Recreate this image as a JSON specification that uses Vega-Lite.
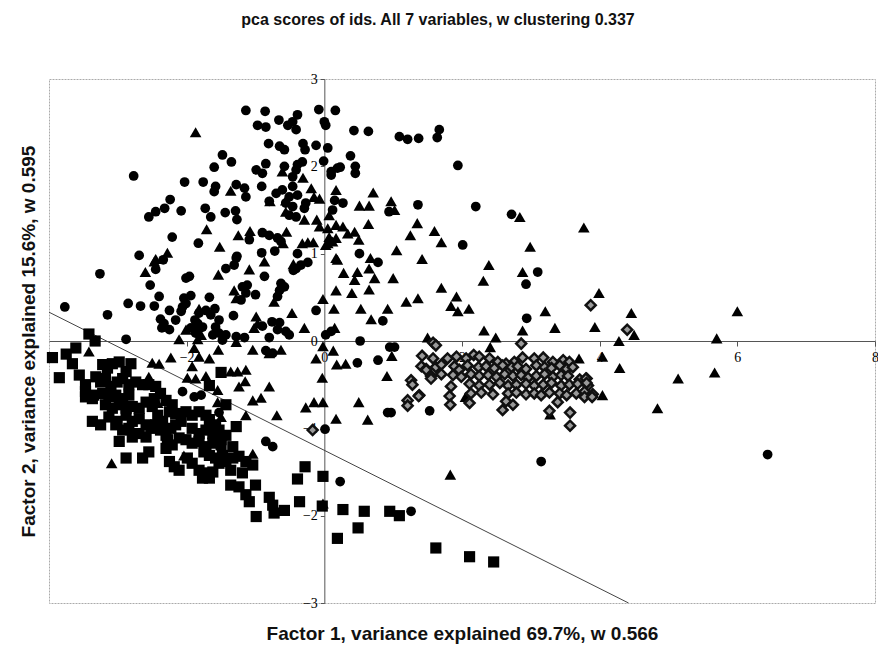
{
"$schema":"https://vega.github.io/schema/vega-lite/v6.json",
"width":826,"height":524,
"autosize":{"type":"none"},
"padding":{"left":49,"top":79,"right":3,"bottom":42},
"background":"white",
"title":{"text":"pca scores of ids. All 7 variables, w clustering 0.337","font":"Liberation Sans","fontSize":16,"fontWeight":"bold","color":"#111","anchor":"middle","dx":-24,"offset":31,"baseline":"alphabetic"},
"config":{"view":{"stroke":"#aaa","strokeDash":[2,1],"strokeWidth":1}},
"datasets":{
"cut":[{"x":-4,"y":0.33},{"x":4.42,"y":-3}],
"pts":[
{"x":-1.14,"y":2.64,"g":"c"},{"x":-0.86,"y":2.63,"g":"c"},{"x":-0.97,"y":2.47,"g":"c"},{"x":-0.85,"y":2.45,"g":"c"},{"x":-0.66,"y":2.53,"g":"c"},{"x":-0.53,"y":2.47,"g":"c"},{"x":-0.46,"y":2.51,"g":"c"},{"x":-0.41,"y":2.42,"g":"c"},{"x":-0.39,"y":2.59,"g":"c"},{"x":-0.81,"y":2.26,"g":"c"},{"x":-0.65,"y":2.23,"g":"c"},{"x":-0.58,"y":2.19,"g":"c"},{"x":-1.48,"y":2.13,"g":"c"},{"x":-1.35,"y":2.05,"g":"c"},{"x":-1.6,"y":1.99,"g":"c"},{"x":-0.85,"y":2.03,"g":"c"},{"x":-0.99,"y":1.96,"g":"c"},{"x":-0.9,"y":1.92,"g":"c"},{"x":-0.58,"y":2.0,"g":"c"},{"x":-0.46,"y":1.88,"g":"c"},{"x":-2.77,"y":1.89,"g":"c"},{"x":-2.03,"y":1.82,"g":"c"},{"x":-1.76,"y":1.82,"g":"c"},{"x":-1.58,"y":1.77,"g":"c"},{"x":-1.6,"y":1.71,"g":"c"},{"x":-1.28,"y":1.79,"g":"c"},{"x":-1.16,"y":1.75,"g":"c"},{"x":-1.14,"y":1.65,"g":"c"},{"x":-0.91,"y":1.77,"g":"c"},{"x":-0.7,"y":1.69,"g":"c"},{"x":-0.61,"y":1.73,"g":"c"},{"x":-0.46,"y":1.77,"g":"c"},{"x":-0.51,"y":1.65,"g":"c"},{"x":-0.39,"y":1.67,"g":"c"},{"x":-2.24,"y":1.62,"g":"c"},{"x":-2.45,"y":1.48,"g":"c"},{"x":-2.55,"y":1.42,"g":"c"},{"x":-2.32,"y":1.52,"g":"c"},{"x":-2.08,"y":1.49,"g":"c"},{"x":-1.73,"y":1.52,"g":"c"},{"x":-1.65,"y":1.42,"g":"c"},{"x":-1.44,"y":1.47,"g":"c"},{"x":-1.29,"y":1.49,"g":"c"},{"x":-1.27,"y":1.39,"g":"c"},{"x":-0.8,"y":1.6,"g":"c"},{"x":-0.56,"y":1.58,"g":"c"},{"x":-0.46,"y":1.54,"g":"c"},{"x":-0.51,"y":1.44,"g":"c"},{"x":-0.9,"y":1.24,"g":"c"},{"x":-0.8,"y":1.21,"g":"c"},{"x":-0.68,"y":1.18,"g":"c"},{"x":-0.63,"y":1.14,"g":"c"},{"x":-1.09,"y":1.16,"g":"c"},{"x":-2.21,"y":1.19,"g":"c"},{"x":-1.83,"y":1.12,"g":"c"},{"x":-0.72,"y":1.03,"g":"c"},{"x":-0.91,"y":1.01,"g":"c"},{"x":-0.39,"y":1.0,"g":"c"},{"x":-2.69,"y":0.98,"g":"c"},{"x":-1.27,"y":0.97,"g":"c"},{"x":-0.41,"y":1.42,"g":"c"},
{"x":-0.08,"y":2.65,"g":"c"},{"x":0.16,"y":2.64,"g":"c"},{"x":0,"y":2.51,"g":"c"},{"x":0.02,"y":2.47,"g":"c"},{"x":-0.31,"y":2.26,"g":"c"},{"x":-0.28,"y":2.19,"g":"c"},{"x":-0.12,"y":2.24,"g":"c"},{"x":0.05,"y":2.21,"g":"c"},{"x":-0.01,"y":2.06,"g":"c"},{"x":0.19,"y":1.98,"g":"c"},{"x":-0.32,"y":2.05,"g":"c"},{"x":-0.39,"y":2.02,"g":"c"},{"x":-0.41,"y":1.96,"g":"c"},{"x":0.15,"y":1.61,"g":"c"},{"x":-0.29,"y":1.52,"g":"c"},{"x":-0.27,"y":1.58,"g":"c"},{"x":-0.12,"y":0.35,"g":"c"},{"x":0.02,"y":0.07,"g":"c"},
{"x":0.43,"y":2.41,"g":"c"},{"x":0.64,"y":2.4,"g":"c"},{"x":1.09,"y":2.34,"g":"c"},{"x":1.21,"y":2.31,"g":"c"},{"x":1.37,"y":2.32,"g":"c"},{"x":1.67,"y":2.42,"g":"c"},{"x":1.64,"y":2.33,"g":"c"},{"x":0.38,"y":2.12,"g":"c"},{"x":0.1,"y":1.94,"g":"c"},{"x":0.1,"y":1.9,"g":"c"},{"x":0.23,"y":1.99,"g":"c"},{"x":0.45,"y":2.0,"g":"c"},{"x":0.45,"y":1.92,"g":"c"},{"x":1.94,"y":2.01,"g":"c"},{"x":0.27,"y":1.58,"g":"c"},{"x":0.12,"y":1.5,"g":"c"},{"x":1.36,"y":1.56,"g":"c"},{"x":2.2,"y":1.54,"g":"c"},{"x":0.94,"y":1.48,"g":"c"},{"x":2.72,"y":1.45,"g":"c"},{"x":2.01,"y":1.1,"g":"c"},{"x":0.51,"y":1.0,"g":"c"},
{"x":-3.26,"y":0.77,"g":"c"},{"x":-2.45,"y":0.82,"g":"c"},{"x":-2.34,"y":0.93,"g":"c"},{"x":-2.53,"y":0.64,"g":"c"},{"x":-2.4,"y":0.51,"g":"c"},{"x":-2.85,"y":0.43,"g":"c"},{"x":-2.67,"y":0.4,"g":"c"},{"x":-2.47,"y":0.4,"g":"c"},{"x":-3.15,"y":0.3,"g":"c"},{"x":-2.25,"y":0.35,"g":"c"},{"x":-2.38,"y":0.25,"g":"c"},{"x":-2.33,"y":0.2,"g":"c"},{"x":-2.36,"y":0.15,"g":"c"},{"x":-2.25,"y":0.13,"g":"c"},{"x":-2.16,"y":0.24,"g":"c"},{"x":-2.08,"y":0.34,"g":"c"},{"x":-2.01,"y":0.72,"g":"c"},{"x":-1.96,"y":0.74,"g":"c"},{"x":-2.04,"y":0.49,"g":"c"},{"x":-1.94,"y":0.52,"g":"c"},{"x":-2.01,"y":0.43,"g":"c"},{"x":-2.06,"y":0.39,"g":"c"},{"x":-1.88,"y":0.24,"g":"c"},{"x":-1.84,"y":0.2,"g":"c"},{"x":-1.94,"y":0.15,"g":"c"},{"x":-1.87,"y":0.09,"g":"c"},{"x":-1.77,"y":0.16,"g":"c"},{"x":-1.67,"y":0.5,"g":"c"},{"x":-1.72,"y":0.35,"g":"c"},{"x":-1.59,"y":0.37,"g":"c"},{"x":-1.65,"y":0.3,"g":"c"},{"x":-1.53,"y":0.24,"g":"c"},{"x":-1.58,"y":0.16,"g":"c"},{"x":-1.53,"y":0.09,"g":"c"},{"x":-1.43,"y":0.07,"g":"c"},{"x":-1.43,"y":0.83,"g":"c"},{"x":-1.31,"y":0.87,"g":"c"},{"x":-1.28,"y":0.95,"g":"c"},{"x":-1.19,"y":0.62,"g":"c"},{"x":-1.12,"y":0.64,"g":"c"},{"x":-1.14,"y":0.55,"g":"c"},{"x":-1.0,"y":0.53,"g":"c"},{"x":-1.21,"y":0.47,"g":"c"},{"x":-1.32,"y":0.29,"g":"c"},{"x":-0.9,"y":0.17,"g":"c"},{"x":-1.28,"y":0.05,"g":"c"},{"x":-1.16,"y":0.04,"g":"c"},{"x":-0.63,"y":0.66,"g":"c"},{"x":-0.58,"y":0.62,"g":"c"},{"x":-0.65,"y":0.58,"g":"c"},{"x":-0.68,"y":0.51,"g":"c"},{"x":-0.41,"y":0.83,"g":"c"},{"x":-0.34,"y":0.87,"g":"c"},{"x":-0.24,"y":0.9,"g":"c"},{"x":-0.45,"y":0.81,"g":"c"},{"x":-0.76,"y":0.22,"g":"c"},{"x":-0.65,"y":0.21,"g":"c"},{"x":-0.68,"y":0.13,"g":"c"},{"x":-0.56,"y":0.11,"g":"c"},{"x":-0.51,"y":0.07,"g":"c"},{"x":-0.8,"y":0.04,"g":"c"},
{"x":-3.77,"y":0.39,"g":"c"},{"x":-2.88,"y":0.02,"g":"c"},{"x":-1.82,"y":0.32,"g":"c"},{"x":-1.62,"y":0.07,"g":"c"},{"x":-1.48,"y":0.01,"g":"c"},{"x":-0.87,"y":0.74,"g":"c"},{"x":-0.85,"y":-0.11,"g":"c"},{"x":-0.75,"y":-0.14,"g":"c"},{"x":-2.06,"y":-0.58,"g":"c"},{"x":-1.89,"y":-0.64,"g":"c"},{"x":-1.79,"y":-0.62,"g":"c"},{"x":-1.53,"y":-0.82,"g":"c"},{"x":-0.85,"y":-1.15,"g":"c"},{"x":-0.75,"y":-1.21,"g":"c"},
{"x":0.78,"y":0.9,"g":"c"},{"x":3.1,"y":0.79,"g":"c"},{"x":2.93,"y":0.65,"g":"c"},{"x":2.94,"y":0.26,"g":"c"},{"x":0.85,"y":0.23,"g":"c"},{"x":0.1,"y":0.11,"g":"c"},{"x":0.52,"y":0.0,"g":"c"},{"x":0.95,"y":-0.07,"g":"c"},{"x":1.02,"y":-0.07,"g":"c"},{"x":0.48,"y":-0.25,"g":"c"},{"x":0.78,"y":-0.22,"g":"c"},{"x":1.53,"y":-0.8,"g":"c"},{"x":0.92,"y":-0.82,"g":"c"},{"x":0.97,"y":-0.82,"g":"c"},{"x":0.01,"y":-1.01,"g":"c"},
{"x":0.23,"y":-1.61,"g":"c"},{"x":1.26,"y":-1.95,"g":"c"},{"x":3.15,"y":-1.38,"g":"c"},{"x":6.44,"y":-1.3,"g":"c"},
{"x":-1.87,"y":2.39,"g":"t"},{"x":-1.36,"y":1.72,"g":"t"},{"x":-0.79,"y":1.6,"g":"t"},{"x":-0.56,"y":1.61,"g":"t"},{"x":-0.56,"y":1.48,"g":"t"},{"x":-0.61,"y":1.94,"g":"t"},{"x":-1.71,"y":1.28,"g":"t"},{"x":-1.25,"y":1.21,"g":"t"},{"x":-1.08,"y":1.26,"g":"t"},{"x":-0.55,"y":1.25,"g":"t"},{"x":-0.6,"y":1.12,"g":"t"},{"x":-1.52,"y":1.08,"g":"t"},{"x":-2.28,"y":1.01,"g":"t"},{"x":-2.45,"y":0.94,"g":"t"},{"x":-0.31,"y":1.87,"g":"t"},{"x":-0.19,"y":1.75,"g":"t"},{"x":-0.15,"y":1.65,"g":"t"},{"x":-0.07,"y":1.63,"g":"t"},{"x":0.17,"y":1.73,"g":"t"},{"x":0.07,"y":1.44,"g":"t"},{"x":-0.29,"y":1.39,"g":"t"},{"x":-0.11,"y":1.39,"g":"t"},{"x":-0.07,"y":1.31,"g":"t"},{"x":0.05,"y":1.29,"g":"t"},{"x":0.17,"y":1.33,"g":"t"},{"x":0.07,"y":1.19,"g":"t"},{"x":0.17,"y":1.18,"g":"t"},{"x":-0.32,"y":1.12,"g":"t"},{"x":-0.24,"y":1.13,"g":"t"},{"x":-0.16,"y":1.13,"g":"t"},{"x":0.05,"y":1.12,"g":"t"},{"x":0.17,"y":0.95,"g":"t"},{"x":0.17,"y":0.58,"g":"t"},{"x":-0.02,"y":0.48,"g":"t"},{"x":0.14,"y":0.37,"g":"t"},{"x":-0.29,"y":0.15,"g":"t"},{"x":0.15,"y":0.15,"g":"t"},{"x":-2.6,"y":0.79,"g":"t"},{"x":-2.47,"y":0.91,"g":"t"},{"x":-1.82,"y":0.37,"g":"t"},{"x":-2.01,"y":0.13,"g":"t"},{"x":-1.84,"y":0.16,"g":"t"},{"x":-1.54,"y":0.76,"g":"t"},{"x":-1.09,"y":0.82,"g":"t"},{"x":-1.31,"y":0.58,"g":"t"},{"x":-1.28,"y":0.49,"g":"t"},{"x":-0.99,"y":0.28,"g":"t"},{"x":-0.97,"y":0.2,"g":"t"},{"x":-1.02,"y":0.15,"g":"t"},{"x":-0.87,"y":0.91,"g":"t"},{"x":-0.73,"y":0.45,"g":"t"},{"x":-0.45,"y":0.88,"g":"t"},{"x":-0.47,"y":0.32,"g":"t"},{"x":-2.11,"y":0.02,"g":"t"},{"x":-1.79,"y":0.07,"g":"t"},{"x":-1.84,"y":0.02,"g":"t"},{"x":-1.28,"y":-0.01,"g":"t"},{"x":-3.42,"y":-0.12,"g":"t"},{"x":-1.04,"y":-0.1,"g":"t"},{"x":-0.63,"y":-0.1,"g":"t"},{"x":-0.8,"y":-0.14,"g":"t"},{"x":-1.89,"y":-0.08,"g":"t"},{"x":-1.82,"y":-0.18,"g":"t"},{"x":-1.92,"y":-0.29,"g":"t"},{"x":-1.67,"y":-0.2,"g":"t"},{"x":-2.23,"y":-0.19,"g":"t"},{"x":-2.5,"y":-0.25,"g":"t"},{"x":-2.4,"y":-0.26,"g":"t"},{"x":-1.54,"y":-0.1,"g":"t"},{"x":-1.36,"y":-0.35,"g":"t"},{"x":-1.26,"y":-0.35,"g":"t"},{"x":-1.14,"y":-0.33,"g":"t"},{"x":-1.15,"y":-0.46,"g":"t"},{"x":-1.24,"y":-0.52,"g":"t"},{"x":-1.99,"y":-0.42,"g":"t"},{"x":-1.87,"y":-0.43,"g":"t"},{"x":-1.72,"y":-0.4,"g":"t"},{"x":-0.8,"y":-0.52,"g":"t"},{"x":-1.04,"y":-0.68,"g":"t"},{"x":-0.92,"y":-0.65,"g":"t"},{"x":-1.55,"y":-0.56,"g":"t"},{"x":-1.55,"y":-0.7,"g":"t"},{"x":-1.14,"y":-0.85,"g":"t"},{"x":-0.69,"y":-0.85,"g":"t"},{"x":-2.55,"y":-0.41,"g":"t"},{"x":-2.42,"y":-0.71,"g":"t"},{"x":-3.09,"y":-1.4,"g":"t"},{"x":-1.5,"y":-0.87,"g":"t"},{"x":-1.04,"y":-1.29,"g":"t"},{"x":-2.04,"y":-1.31,"g":"t"},
{"x":0.19,"y":0.93,"g":"t"},{"x":0.67,"y":0.95,"g":"t"},{"x":0.65,"y":0.83,"g":"t"},{"x":0.73,"y":0.72,"g":"t"},{"x":1.05,"y":1.04,"g":"t"},{"x":0.28,"y":0.78,"g":"t"},{"x":0.48,"y":0.79,"g":"t"},{"x":0.44,"y":0.7,"g":"t"},{"x":1.0,"y":0.72,"g":"t"},{"x":1.42,"y":0.94,"g":"t"},{"x":2.39,"y":0.87,"g":"t"},{"x":2.88,"y":0.79,"g":"t"},{"x":2.31,"y":0.69,"g":"t"},{"x":0.4,"y":0.55,"g":"t"},{"x":0.65,"y":0.59,"g":"t"},{"x":1.7,"y":0.61,"g":"t"},{"x":1.92,"y":0.51,"g":"t"},{"x":1.84,"y":0.4,"g":"t"},{"x":1.94,"y":0.34,"g":"t"},{"x":2.1,"y":0.37,"g":"t"},{"x":1.19,"y":0.45,"g":"t"},{"x":1.36,"y":0.49,"g":"t"},{"x":0.53,"y":0.37,"g":"t"},{"x":0.92,"y":0.37,"g":"t"},{"x":0.68,"y":0.25,"g":"t"},{"x":3.21,"y":0.34,"g":"t"},{"x":3.35,"y":0.15,"g":"t"},{"x":2.32,"y":0.12,"g":"t"},{"x":2.88,"y":0.12,"g":"t"},{"x":-0.02,"y":-0.06,"g":"t"},{"x":0.13,"y":-0.11,"g":"t"},{"x":-0.12,"y":-0.2,"g":"t"},{"x":0.18,"y":-0.27,"g":"t"},{"x":0.31,"y":-0.26,"g":"t"},{"x":0.98,"y":-0.17,"g":"t"},{"x":1.5,"y":0.04,"g":"t"},{"x":2.49,"y":0.04,"g":"t"},{"x":2.41,"y":-0.07,"g":"t"},{"x":-0.03,"y":-0.42,"g":"t"},{"x":0.91,"y":-0.4,"g":"t"},{"x":0.5,"y":-0.7,"g":"t"},{"x":-0.27,"y":-0.76,"g":"t"},{"x":-0.15,"y":-0.7,"g":"t"},{"x":-0.02,"y":-0.7,"g":"t"},{"x":0.17,"y":-0.89,"g":"t"},{"x":0.63,"y":-0.9,"g":"t"},{"x":3.7,"y":-0.2,"g":"t"},{"x":2.05,"y":-0.64,"g":"t"},{"x":3.93,"y":0.16,"g":"t"},{"x":4.04,"y":-0.18,"g":"t"},{"x":4.04,"y":-0.62,"g":"t"},{"x":3.28,"y":-0.84,"g":"t"},
{"x":3.99,"y":0.55,"g":"t"},{"x":4.46,"y":0.32,"g":"t"},{"x":4.5,"y":0.07,"g":"t"},{"x":4.28,"y":0.0,"g":"t"},{"x":5.7,"y":0.03,"g":"t"},{"x":6.0,"y":0.34,"g":"t"},{"x":4.29,"y":-0.31,"g":"t"},{"x":5.14,"y":-0.43,"g":"t"},{"x":5.67,"y":-0.36,"g":"t"},{"x":4.84,"y":-0.77,"g":"t"},
{"x":0.71,"y":1.7,"g":"t"},{"x":0.51,"y":1.55,"g":"t"},{"x":0.65,"y":1.55,"g":"t"},{"x":0.97,"y":1.6,"g":"t"},{"x":1.02,"y":1.5,"g":"t"},{"x":0.27,"y":1.31,"g":"t"},{"x":0.34,"y":1.23,"g":"t"},{"x":0.44,"y":1.25,"g":"t"},{"x":0.64,"y":1.34,"g":"t"},{"x":0.5,"y":1.16,"g":"t"},{"x":0.12,"y":1.14,"g":"t"},{"x":0.02,"y":1.1,"g":"t"},{"x":1.35,"y":1.35,"g":"t"},{"x":1.6,"y":1.26,"g":"t"},{"x":1.25,"y":1.21,"g":"t"},{"x":1.7,"y":1.13,"g":"t"},{"x":2.84,"y":1.42,"g":"t"},{"x":2.99,"y":1.08,"g":"t"},{"x":3.77,"y":1.3,"g":"t"},
{"x":1.83,"y":-1.53,"g":"t"},{"x":-0.02,"y":-1.86,"g":"t"},
{"x":-3.42,"y":0.08,"g":"s"},{"x":-3.33,"y":0.0,"g":"s"},{"x":-3.61,"y":-0.08,"g":"s"},{"x":-3.75,"y":-0.15,"g":"s"},{"x":-3.95,"y":-0.19,"g":"s"},{"x":-3.66,"y":-0.26,"g":"s"},{"x":-3.85,"y":-0.42,"g":"s"},{"x":-3.56,"y":-0.39,"g":"s"},{"x":-3.47,"y":-0.5,"g":"s"},{"x":-3.47,"y":-0.64,"g":"s"},{"x":-3.37,"y":-0.66,"g":"s"},{"x":-3.37,"y":-0.92,"g":"s"},{"x":-3.25,"y":-0.96,"g":"s"},{"x":-3.13,"y":-0.87,"g":"s"},{"x":-3.01,"y":-0.92,"g":"s"},{"x":-2.98,"y":-1.15,"g":"s"},{"x":-2.88,"y":-1.34,"g":"s"},{"x":-2.64,"y":-1.34,"g":"s"},{"x":-2.55,"y":-1.27,"g":"s"},{"x":-2.79,"y":-1.1,"g":"s"},{"x":-3.22,"y":-0.27,"g":"s"},{"x":-3.15,"y":-0.31,"g":"s"},{"x":-3.08,"y":-0.26,"g":"s"},{"x":-2.98,"y":-0.24,"g":"s"},{"x":-2.81,"y":-0.26,"g":"s"},{"x":-2.88,"y":-0.35,"g":"s"},{"x":-3.32,"y":-0.41,"g":"s"},{"x":-3.25,"y":-0.47,"g":"s"},{"x":-3.18,"y":-0.43,"g":"s"},{"x":-3.1,"y":-0.52,"g":"s"},{"x":-3.01,"y":-0.47,"g":"s"},{"x":-2.93,"y":-0.43,"g":"s"},{"x":-2.84,"y":-0.5,"g":"s"},{"x":-2.74,"y":-0.47,"g":"s"},{"x":-2.64,"y":-0.5,"g":"s"},{"x":-2.55,"y":-0.5,"g":"s"},{"x":-3.47,"y":-0.58,"g":"s"},{"x":-3.35,"y":-0.62,"g":"s"},{"x":-3.22,"y":-0.6,"g":"s"},{"x":-3.13,"y":-0.64,"g":"s"},{"x":-3.03,"y":-0.62,"g":"s"},{"x":-2.93,"y":-0.66,"g":"s"},{"x":-2.84,"y":-0.62,"g":"s"},{"x":-3.18,"y":-0.73,"g":"s"},{"x":-3.08,"y":-0.77,"g":"s"},{"x":-2.98,"y":-0.73,"g":"s"},{"x":-2.88,"y":-0.77,"g":"s"},{"x":-2.79,"y":-0.75,"g":"s"},{"x":-2.69,"y":-0.77,"g":"s"},{"x":-2.45,"y":-0.52,"g":"s"},{"x":-2.38,"y":-0.6,"g":"s"},{"x":-2.47,"y":-0.66,"g":"s"},{"x":-2.59,"y":-0.7,"g":"s"},{"x":-2.5,"y":-0.75,"g":"s"},{"x":-2.3,"y":-0.68,"g":"s"},{"x":-2.21,"y":-0.73,"g":"s"},{"x":-2.25,"y":-0.81,"g":"s"},{"x":-2.16,"y":-0.83,"g":"s"},{"x":-2.42,"y":-0.85,"g":"s"},{"x":-2.35,"y":-0.92,"g":"s"},{"x":-2.45,"y":-0.96,"g":"s"},{"x":-2.88,"y":-0.85,"g":"s"},{"x":-2.79,"y":-0.92,"g":"s"},{"x":-2.69,"y":-0.89,"g":"s"},{"x":-2.59,"y":-0.96,"g":"s"},{"x":-2.52,"y":-1.0,"g":"s"},{"x":-3.03,"y":-0.96,"g":"s"},{"x":-2.93,"y":-1.02,"g":"s"},{"x":-2.84,"y":-1.0,"g":"s"},{"x":-2.69,"y":-1.06,"g":"s"},{"x":-2.59,"y":-1.1,"g":"s"},{"x":-2.38,"y":-1.02,"g":"s"},{"x":-2.3,"y":-1.08,"g":"s"},{"x":-2.23,"y":-1.0,"g":"s"},{"x":-2.16,"y":-0.96,"g":"s"},{"x":-2.08,"y":-0.92,"g":"s"},{"x":-2.28,"y":-1.13,"g":"s"},{"x":-2.21,"y":-1.19,"g":"s"},{"x":-2.3,"y":-1.23,"g":"s"},{"x":-2.11,"y":-1.11,"g":"s"},{"x":-2.01,"y":-0.81,"g":"s"},{"x":-1.92,"y":-0.85,"g":"s"},{"x":-1.82,"y":-0.81,"g":"s"},{"x":-1.72,"y":-0.85,"g":"s"},{"x":-1.92,"y":-1.0,"g":"s"},{"x":-1.82,"y":-1.06,"g":"s"},{"x":-1.72,"y":-1.02,"g":"s"},{"x":-1.62,"y":-1.06,"g":"s"},{"x":-1.53,"y":-1.02,"g":"s"},{"x":-2.01,"y":-1.13,"g":"s"},{"x":-1.92,"y":-1.17,"g":"s"},{"x":-1.82,"y":-1.15,"g":"s"},{"x":-1.72,"y":-1.21,"g":"s"},{"x":-1.62,"y":-1.17,"g":"s"},{"x":-1.5,"y":-1.13,"g":"s"},{"x":-1.43,"y":-1.08,"g":"s"},{"x":-1.75,"y":-1.27,"g":"s"},{"x":-1.67,"y":-1.31,"g":"s"},{"x":-1.58,"y":-1.34,"g":"s"},{"x":-1.48,"y":-1.31,"g":"s"},{"x":-1.99,"y":-1.34,"g":"s"},{"x":-1.92,"y":-1.4,"g":"s"},{"x":-2.25,"y":-1.38,"g":"s"},{"x":-2.18,"y":-1.44,"g":"s"},{"x":-2.11,"y":-1.48,"g":"s"},{"x":-1.82,"y":-1.48,"g":"s"},{"x":-1.72,"y":-1.51,"g":"s"},{"x":-1.62,"y":-1.5,"g":"s"},{"x":-1.77,"y":-1.57,"g":"s"},{"x":-1.67,"y":-1.57,"g":"s"},{"x":-1.53,"y":-1.4,"g":"s"},{"x":-1.43,"y":-1.38,"g":"s"},{"x":-1.33,"y":-1.34,"g":"s"},{"x":-1.24,"y":-1.32,"g":"s"},{"x":-1.14,"y":-1.38,"g":"s"},{"x":-1.36,"y":-1.48,"g":"s"},{"x":-1.19,"y":-1.51,"g":"s"},{"x":-1.04,"y":-1.42,"g":"s"},{"x":-1.28,"y":-0.98,"g":"s"},{"x":-1.33,"y":-1.21,"g":"s"},{"x":-1.5,"y":-1.19,"g":"s"},{"x":-1.67,"y":-0.9,"g":"s"},{"x":-1.58,"y":-0.96,"g":"s"},{"x":-1.5,"y":-0.36,"g":"s"},{"x":-1.67,"y":-0.51,"g":"s"},{"x":-1.43,"y":-0.73,"g":"s"},{"x":-1.36,"y":-1.65,"g":"s"},{"x":-1.24,"y":-1.67,"g":"s"},{"x":-1.0,"y":-1.65,"g":"s"},{"x":-1.14,"y":-1.76,"g":"s"},{"x":-1.09,"y":-1.84,"g":"s"},{"x":-0.8,"y":-1.79,"g":"s"},{"x":-0.75,"y":-1.88,"g":"s"},{"x":-0.58,"y":-1.94,"g":"s"},{"x":-0.73,"y":-1.97,"g":"s"},{"x":-0.99,"y":-2.01,"g":"s"},{"x":-0.39,"y":-1.58,"g":"s"},{"x":-0.36,"y":-1.84,"g":"s"},
{"x":-0.28,"y":-1.44,"g":"s"},{"x":-0.02,"y":-1.55,"g":"s"},{"x":-0.03,"y":-1.89,"g":"s"},{"x":0.27,"y":-1.93,"g":"s"},{"x":0.58,"y":-1.95,"g":"s"},{"x":0.95,"y":-1.95,"g":"s"},{"x":1.09,"y":-2.0,"g":"s"},{"x":0.49,"y":-2.14,"g":"s"},{"x":0.19,"y":-2.26,"g":"s"},{"x":1.62,"y":-2.37,"g":"s"},{"x":2.11,"y":-2.47,"g":"s"},{"x":2.46,"y":-2.53,"g":"s"},
{"x":1.58,"y":-0.02,"g":"d"},{"x":1.62,"y":-0.05,"g":"d"},{"x":2.86,"y":-0.03,"g":"d"},{"x":-0.17,"y":-1.02,"g":"d"},
{"x":1.42,"y":-0.17,"g":"d"},{"x":1.58,"y":-0.2,"g":"d"},{"x":1.79,"y":-0.2,"g":"d"},{"x":1.92,"y":-0.18,"g":"d"},{"x":2.06,"y":-0.2,"g":"d"},{"x":2.17,"y":-0.16,"g":"d"},{"x":2.25,"y":-0.18,"g":"d"},{"x":2.4,"y":-0.2,"g":"d"},{"x":2.52,"y":-0.24,"g":"d"},{"x":2.64,"y":-0.26,"g":"d"},{"x":2.76,"y":-0.24,"g":"d"},{"x":2.88,"y":-0.19,"g":"d"},{"x":3.05,"y":-0.2,"g":"d"},{"x":3.18,"y":-0.19,"g":"d"},{"x":3.32,"y":-0.24,"g":"d"},{"x":3.47,"y":-0.22,"g":"d"},{"x":3.56,"y":-0.24,"g":"d"},
{"x":1.41,"y":-0.29,"g":"d"},{"x":1.48,"y":-0.32,"g":"d"},{"x":1.62,"y":-0.3,"g":"d"},{"x":1.7,"y":-0.27,"g":"d"},{"x":1.89,"y":-0.29,"g":"d"},{"x":1.96,"y":-0.33,"g":"d"},{"x":2.08,"y":-0.28,"g":"d"},{"x":2.24,"y":-0.3,"g":"d"},{"x":2.35,"y":-0.29,"g":"d"},{"x":2.47,"y":-0.31,"g":"d"},{"x":2.59,"y":-0.28,"g":"d"},{"x":2.72,"y":-0.3,"g":"d"},{"x":2.81,"y":-0.29,"g":"d"},{"x":2.93,"y":-0.32,"g":"d"},{"x":3.08,"y":-0.28,"g":"d"},{"x":3.2,"y":-0.3,"g":"d"},{"x":3.3,"y":-0.31,"g":"d"},{"x":3.42,"y":-0.28,"g":"d"},{"x":3.52,"y":-0.32,"g":"d"},{"x":3.61,"y":-0.3,"g":"d"},
{"x":1.55,"y":-0.4,"g":"d"},{"x":1.7,"y":-0.38,"g":"d"},{"x":1.87,"y":-0.39,"g":"d"},{"x":1.99,"y":-0.41,"g":"d"},{"x":2.13,"y":-0.38,"g":"d"},{"x":2.25,"y":-0.4,"g":"d"},{"x":2.38,"y":-0.39,"g":"d"},{"x":2.5,"y":-0.41,"g":"d"},{"x":2.62,"y":-0.38,"g":"d"},{"x":2.74,"y":-0.4,"g":"d"},{"x":2.86,"y":-0.39,"g":"d"},{"x":2.96,"y":-0.42,"g":"d"},{"x":3.08,"y":-0.4,"g":"d"},{"x":3.2,"y":-0.38,"g":"d"},{"x":3.32,"y":-0.41,"g":"d"},{"x":3.44,"y":-0.39,"g":"d"},{"x":3.54,"y":-0.4,"g":"d"},{"x":3.71,"y":-0.44,"g":"d"},{"x":3.81,"y":-0.43,"g":"d"},
{"x":1.26,"y":-0.45,"g":"d"},{"x":1.28,"y":-0.5,"g":"d"},{"x":1.84,"y":-0.52,"g":"d"},{"x":2.11,"y":-0.49,"g":"d"},{"x":2.25,"y":-0.51,"g":"d"},{"x":2.4,"y":-0.5,"g":"d"},{"x":2.55,"y":-0.48,"g":"d"},{"x":2.67,"y":-0.51,"g":"d"},{"x":2.79,"y":-0.5,"g":"d"},{"x":2.93,"y":-0.49,"g":"d"},{"x":3.05,"y":-0.51,"g":"d"},{"x":3.18,"y":-0.5,"g":"d"},{"x":3.3,"y":-0.48,"g":"d"},{"x":3.44,"y":-0.51,"g":"d"},{"x":3.56,"y":-0.5,"g":"d"},{"x":3.68,"y":-0.49,"g":"d"},{"x":3.83,"y":-0.51,"g":"d"},
{"x":1.82,"y":-0.63,"g":"d"},{"x":2.13,"y":-0.6,"g":"d"},{"x":2.28,"y":-0.59,"g":"d"},{"x":2.45,"y":-0.61,"g":"d"},{"x":2.67,"y":-0.6,"g":"d"},{"x":2.79,"y":-0.59,"g":"d"},{"x":2.93,"y":-0.61,"g":"d"},{"x":3.05,"y":-0.6,"g":"d"},{"x":3.15,"y":-0.62,"g":"d"},{"x":3.27,"y":-0.59,"g":"d"},{"x":3.42,"y":-0.6,"g":"d"},{"x":3.52,"y":-0.62,"g":"d"},{"x":3.66,"y":-0.6,"g":"d"},{"x":3.78,"y":-0.58,"g":"d"},{"x":3.9,"y":-0.61,"g":"d"},
{"x":1.21,"y":-0.68,"g":"d"},{"x":1.21,"y":-0.74,"g":"d"},{"x":1.38,"y":-0.62,"g":"d"},{"x":1.83,"y":-0.73,"g":"d"},{"x":2.11,"y":-0.71,"g":"d"},{"x":2.64,"y":-0.69,"g":"d"},{"x":2.74,"y":-0.73,"g":"d"},{"x":3.39,"y":-0.7,"g":"d"},{"x":3.78,"y":-0.64,"g":"d"},
{"x":2.59,"y":-0.79,"g":"d"},{"x":3.27,"y":-0.8,"g":"d"},{"x":3.57,"y":-0.82,"g":"d"},{"x":3.57,"y":-0.97,"g":"d"},
{"x":1.48,"y":-0.33,"g":"d"},{"x":1.55,"y":-0.43,"g":"d"},{"x":1.37,"y":-0.63,"g":"d"},{"x":3.87,"y":0.41,"g":"d"},{"x":4.4,"y":0.13,"g":"d"},{"x":3.8,"y":-0.43,"g":"d"},{"x":3.81,"y":-0.48,"g":"d"},{"x":3.89,"y":-0.64,"g":"d"}
]},
"encoding":{
"x":{"field":"x","type":"quantitative","scale":{"domain":[-4,8],"nice":false,"zero":false},
 "axis":{"orient":"bottom","offset":-262,"values":[-2,0,2,4,6,8],"grid":false,"domainColor":"#555","tickColor":"#555","tickSize":5,"labelFont":"Liberation Serif","labelFontSize":14,"labelColor":"#000","labelPadding":4,"labelFlush":false,"labelOverlap":false,
 "title":"Factor 1, variance explained 69.7%, w 0.566","titleFont":"Liberation Sans","titleFontSize":19,"titleFontWeight":"bold","titleColor":"#111","titleY":292,"titleBaseline":"middle"}},
"y":{"field":"y","type":"quantitative","scale":{"domain":[-3,3],"nice":false,"zero":false},
 "axis":{"orient":"left","offset":-275.33,"values":[-3,-2,-1,0,1,2,3],"grid":false,"domainColor":"#555","tickColor":"#555","tickSize":4,"labelFont":"Liberation Serif","labelFontSize":14,"labelColor":"#000","labelPadding":3,"labelFlush":false,"labelOverlap":false,
 "title":"Factor 2, variance explained 15.6%, w 0.595","titleFont":"Liberation Sans","titleFontSize":19,"titleFontWeight":"bold","titleColor":"#111","titleX":-296,"titleY":262,"titleBaseline":"middle"}}
},
"layer":[
{"data":{"name":"cut"},"mark":{"type":"line","color":"#444","strokeWidth":1,"clip":true}},
{"data":{"name":"pts"},"transform":[{"filter":"datum.g==='s'"}],"mark":{"type":"point","shape":"square","filled":true,"color":"#000","size":125,"opacity":1}},
{"data":{"name":"pts"},"transform":[{"filter":"datum.g==='c'"}],"mark":{"type":"point","shape":"circle","filled":true,"color":"#000","size":95,"opacity":1}},
{"data":{"name":"pts"},"transform":[{"filter":"datum.g==='t'"}],"mark":{"type":"point","shape":"triangle-up","filled":true,"color":"#000","size":135,"opacity":1}},
{"data":{"name":"pts"},"transform":[{"filter":"datum.g==='d'"}],"mark":{"type":"point","shape":"diamond","filled":true,"fill":"#9a9a9a","stroke":"#111","strokeWidth":2.5,"size":100,"opacity":1}}
]
}
